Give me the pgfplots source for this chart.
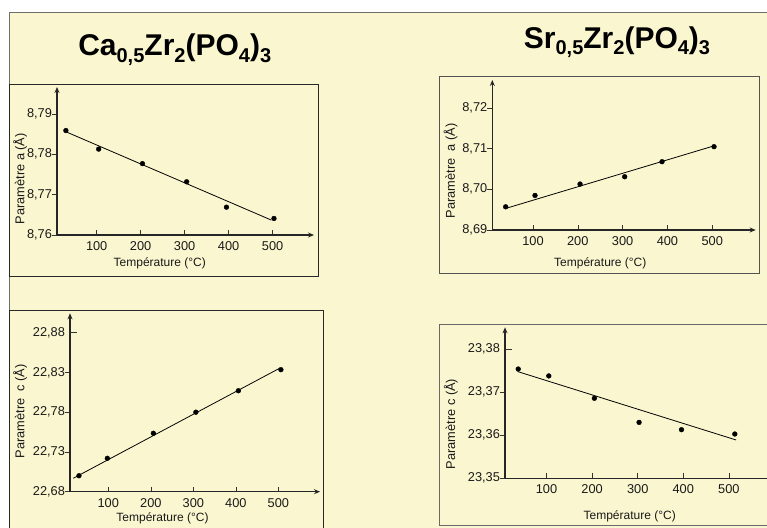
\documentclass[border=0pt]{standalone}
\usepackage{fontspec}
\setmainfont{Liberation Sans}
\usepackage{pgfplots}
\pgfplotsset{compat=1.18}
\usetikzlibrary{arrows.meta}
\definecolor{bg}{RGB}{250,247,208}
\definecolor{boxc}{RGB}{40,40,40}
\definecolor{framec}{RGB}{110,110,110}
\newcommand\sub[1]{\raisebox{-0.22em}{\fontsize{20}{20}\selectfont #1}}
\pgfplotsset{panel/.style={
  scale only axis, anchor=south west,
  axis x line*=bottom, axis y line*=left,
  axis line style={line width=1.1pt, black!85},
  x axis line style={-{Stealth[length=6pt,width=5pt]}},
  y axis line style={-{Stealth[length=6pt,width=5pt]}},
  tick align=inside,
  major tick length=5pt,
  xtick={100,200,300,400,500},
  tick style={black!80, line width=0.6pt},
  ytick style={xshift=-5pt},
  extra y tick style={major tick length=0pt},
  /pgf/number format/assume math mode=true,
  yticklabel style={xshift=-1.5pt,/pgf/number format/.cd,use comma,fixed,fixed zerofill,precision=2},
  xticklabel style={yshift=-3pt,/pgf/number format/.cd,fixed,1000 sep={}},
  tick label style={font=\fontsize{12.8}{14}\selectfont, text=black!90},
  xlabel style={font=\fontsize{12}{14}\selectfont, text=black!90, anchor=center},
  ylabel style={font=\fontsize{12.8}{14}\selectfont, text=black!90, anchor=center, rotate=0},
  xlabel={Température (°C)},
  clip=false,
}}
\begin{document}
\begin{tikzpicture}[x=1pt,y=1pt]
\clip (0,0) rectangle (767,527);
\fill[white] (0,0) rectangle (767,527);
\fill[bg] (9,514) rectangle (800,-10);
\draw[framec, line width=1pt] (9,-10) -- (9,514) -- (800,514);
% panel boxes
\draw[boxc, line width=0.9pt] (9,443) rectangle (318,251);
\draw[boxc!80, line width=0.9pt] (439,451) rectangle (759,254);
\draw[boxc, line width=0.9pt] (9,217) rectangle (323.3,-10);
\draw[boxc!70, line width=0.9pt] (439.7,202.7) rectangle (790,2);
% titles
\node[anchor=base, font=\fontsize{30}{30}\selectfont\bfseries, inner sep=0pt] at (174.7,471)
  {Ca\sub{0,5}Zr\sub{2}(PO\sub{4})\sub{3}};
\node[anchor=base, font=\fontsize{30}{30}\selectfont\bfseries, inner sep=0pt] at (617,478.7)
  {Sr\sub{0,5}Zr\sub{2}(PO\sub{4})\sub{3}};
% panel 1
\begin{axis}[panel, at={(57pt,292pt)}, width=257pt, height=148pt,
  xmin=9.8, xmax=594, ymin=8.76, ymax=8.7967,
  ytick={8.76,8.77,8.78,8.79},
  xlabel style={at={(axis description cs:0.40,-0.189)}},
  ylabel style={at={(axis description cs:-0.144,0.38)}},
  ylabel={Paramètre a (Å)}]
\addplot[black, line width=0.8pt] coordinates {(30,8.7856) (497,8.7637)};
\addplot[only marks, mark=*, mark size=2.4pt, black] coordinates {
(30,8.7859) (104.5,8.7813) (204,8.7777) (304.5,8.7732) (395,8.7669) (503,8.7641)};
\end{axis}
% panel 2
\begin{axis}[panel, at={(492.3pt,297pt)}, width=263.4pt, height=150pt,
  xmin=9.2, xmax=597, ymin=8.69, ymax=8.7269,
  ytick={8.69,8.70,8.71,8.72},
  xlabel style={at={(axis description cs:0.41,-0.22)}},
  ylabel style={at={(axis description cs:-0.158,0.395)}},
  ylabel={Paramètre\ \ a (Å)}]
\addplot[black, line width=0.8pt] coordinates {(39,8.6953) (504,8.7107)};
\addplot[only marks, mark=*, mark size=2.4pt, black] coordinates {
(39,8.6957) (104.5,8.6985) (205,8.7013) (304.6,8.7031) (388,8.7068) (504,8.7105)};
\end{axis}
% panel 3
\begin{axis}[panel, at={(70pt,35.3pt)}, width=250pt, height=178.4pt,
  xmin=9.9, xmax=598, ymin=22.68, ymax=22.9044,
  ytick={22.68,22.73,22.78,22.83}, extra y ticks={22.88},
  xlabel style={at={(axis description cs:0.37,-0.150)}},
  ylabel style={at={(axis description cs:-0.2,0.45)}},
  ylabel={Paramètre\ \ c (Å)}]
\draw[black!80, line width=0.6pt] (axis cs:9.9,22.88) -- ++(7pt,0pt);
\addplot[black, line width=0.8pt] coordinates {(17.7,22.6969) (502,22.835)};
\addplot[only marks, mark=*, mark size=2.4pt, black] coordinates {
(31,22.7001) (97.7,22.722) (206,22.7535) (306,22.780) (406,22.807) (506,22.8335)};
\end{axis}
% panel 4
\begin{axis}[panel, at={(505pt,48.7pt)}, width=285pt, height=151pt,
  xmin=9, xmax=634, ymin=23.35, ymax=23.3851,
  ytick={23.35,23.36,23.37}, extra y ticks={23.38},
  xlabel style={at={(axis description cs:0.4375,-0.254)}},
  ylabel style={at={(axis description cs:-0.19,0.36)}},
  ylabel={Paramètre c (Å)}]
\draw[black!80, line width=0.6pt] (axis cs:9,23.38) -- ++(7pt,0pt);
\addplot[black, line width=0.8pt] coordinates {(37,23.3748) (516,23.3589)};
\addplot[only marks, mark=*, mark size=2.4pt, black] coordinates {
(38,23.3754) (105,23.3738) (205,23.3686) (303,23.3630) (396,23.3613) (513,23.3603)};
\end{axis}
\end{tikzpicture}
\end{document}
